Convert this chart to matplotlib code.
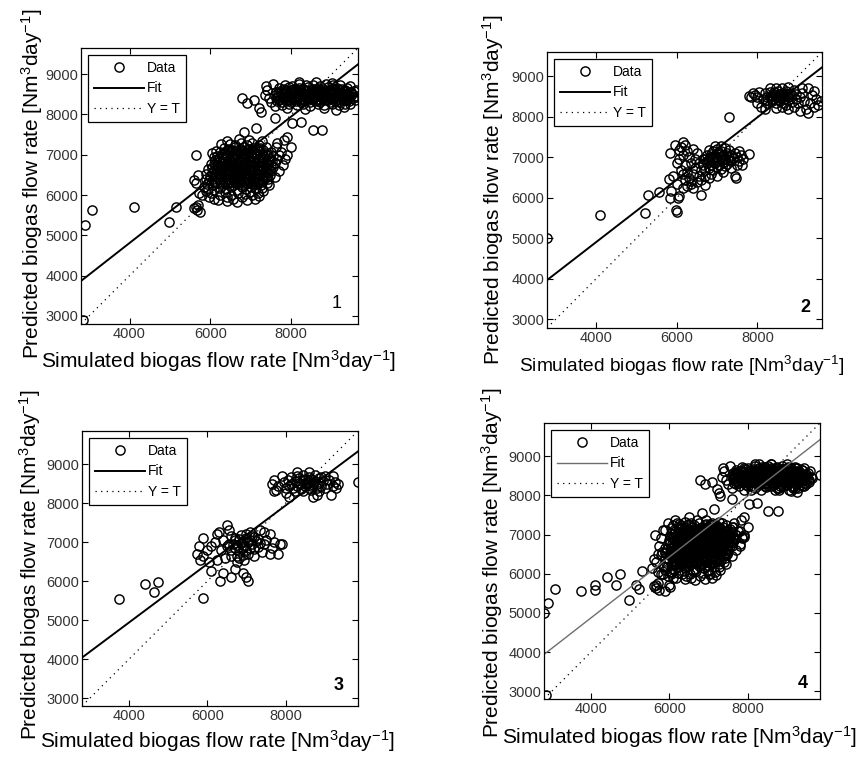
import numpy as np
import matplotlib
matplotlib.use("Agg")
import matplotlib.pyplot as plt

plt.rcParams['font.family'] = ['Liberation Sans', 'DejaVu Sans']
plt.rcParams['mathtext.fontset'] = 'custom'
plt.rcParams['mathtext.rm'] = 'Liberation Sans'
plt.rcParams['mathtext.it'] = 'Liberation Sans'

# ---- training set (panel 1) ----
train_out = [(2840, 2910), (2910, 5250), (3080, 5620), (4100, 5700), (4970, 5330),
             (5150, 5700), (5640, 6990), (6840, 7560), (7130, 7660), (6790, 8400),
             (6910, 8280), (7080, 8350), (7210, 8160), (7260, 8060), (7600, 7910),
             (8030, 7790), (8250, 7810), (8530, 7610), (8770, 7610), (7900, 7440),
             (8000, 7200), (7830, 7360), (7650, 7300), (5650, 5700), (5670, 5630)]

train_lo = [(6180, 5880), (6420, 5940), (6560, 5900), (6790, 5950), (7020, 5990),
            (6010, 6040), (6230, 6010), (6370, 6070), (6520, 5990), (6680, 6060), (6850, 6020), (6990, 6080), (7180, 6040),
            (5950, 6160), (6090, 6120), (6240, 6180), (6390, 6140), (6510, 6200), (6650, 6130), (6770, 6190),
            (6890, 6150), (7010, 6210), (7130, 6160), (7270, 6180),
            (5920, 6280), (6060, 6240), (6170, 6300), (6310, 6260), (6430, 6310), (6550, 6250), (6670, 6290),
            (6790, 6240), (6910, 6300), (7030, 6270), (7150, 6310), (7260, 6250), (7390, 6290),
            (5970, 6370), (6110, 6330), (6230, 6390), (6350, 6350), (6470, 6400), (6590, 6340), (6710, 6380),
            (6830, 6360), (6950, 6410), (7070, 6350), (7190, 6390), (7310, 6360), (7430, 6400),
            (6000, 6470), (6130, 6440), (6250, 6490), (6370, 6450), (6490, 6500), (6610, 6440), (6730, 6480),
            (6850, 6460), (6970, 6510), (7090, 6450), (7210, 6490), (7330, 6470), (7470, 6500),
            (6030, 6560), (6150, 6540), (6280, 6590), (6400, 6550), (6520, 6600), (6640, 6540), (6760, 6580),
            (6880, 6560), (7000, 6610), (7120, 6550), (7240, 6590), (7370, 6570), (7510, 6600),
            (6050, 6660), (6170, 6640), (6300, 6690), (6420, 6650), (6540, 6700), (6660, 6640), (6780, 6680),
            (6900, 6660), (7020, 6710), (7140, 6650), (7260, 6690), (7400, 6670), (7550, 6700),
            (6080, 6760), (6200, 6740), (6330, 6790), (6450, 6750), (6570, 6800), (6690, 6740), (6810, 6780),
            (6930, 6760), (7050, 6810), (7170, 6750), (7290, 6790), (7430, 6770), (7590, 6800),
            (6110, 6860), (6240, 6840), (6360, 6890), (6480, 6850), (6600, 6900), (6720, 6840), (6840, 6880),
            (6960, 6860), (7080, 6910), (7200, 6850), (7330, 6890), (7470, 6870), (7640, 6900),
            (6160, 6960), (6290, 6940), (6410, 6990), (6530, 6950), (6650, 7000), (6770, 6940), (6890, 6980),
            (7010, 6960), (7130, 7010), (7260, 6950), (7390, 6990), (7540, 6970), (7700, 6990),
            (6230, 7060), (6360, 7040), (6480, 7090), (6600, 7050), (6720, 7100), (6840, 7040), (6960, 7080),
            (7080, 7060), (7210, 7100), (7350, 7050), (7500, 7080),
            (6330, 7160), (6470, 7140), (6600, 7190), (6720, 7150), (6840, 7200), (6960, 7140), (7090, 7180),
            (7230, 7160), (7380, 7190),
            (6480, 7260), (6620, 7240), (6760, 7290), (6900, 7250), (7040, 7280), (7190, 7240),
            (5850, 6200), (5880, 6100), (5900, 6400), (5960, 5950), (5880, 6520), (5940, 6640), (6020, 6780),
            (6100, 6950), (6150, 7100), (6250, 7260), (6400, 7330), (6700, 7380), (6950, 7360), (7280, 7330),
            (7620, 7200), (7750, 7080), (7850, 6900), (7900, 7000), (7800, 6750), (7700, 6600), (7600, 6450),
            (7450, 6250), (7300, 6100), (7200, 5980), (7100, 5900), (6900, 5870), (6650, 5830), (6400, 5860),
            (6100, 5900), (5600, 6380), (5700, 6500), (5650, 6300), (5720, 6050), (5600, 5680), (5700, 5760),
            (5750, 5580), (5800, 6000), (6050, 7050)]

# dense middle of the lower training cloud
train_lo_core = [(6120, 6300), (6240, 6320), (6360, 6290), (6480, 6330), (6600, 6300), (6720, 6320), (6840, 6290),
                 (6960, 6330), (7080, 6300), (7200, 6320),
                 (6070, 6410), (6190, 6420), (6310, 6400), (6430, 6430), (6550, 6400), (6670, 6420), (6790, 6410),
                 (6910, 6430), (7030, 6400), (7150, 6420), (7270, 6410), (7390, 6440),
                 (6090, 6510), (6210, 6520), (6330, 6500), (6450, 6530), (6570, 6500), (6690, 6520), (6810, 6510),
                 (6930, 6530), (7050, 6500), (7170, 6520), (7290, 6510), (7420, 6540),
                 (6110, 6610), (6230, 6620), (6350, 6600), (6470, 6630), (6590, 6600), (6710, 6620), (6830, 6610),
                 (6950, 6630), (7070, 6600), (7190, 6620), (7310, 6610), (7450, 6640),
                 (6130, 6710), (6250, 6720), (6370, 6700), (6490, 6730), (6610, 6700), (6730, 6720), (6850, 6710),
                 (6970, 6730), (7090, 6700), (7210, 6720), (7340, 6710), (7490, 6740),
                 (6160, 6810), (6280, 6820), (6400, 6800), (6520, 6830), (6640, 6800), (6760, 6820), (6880, 6810),
                 (7000, 6830), (7120, 6800), (7250, 6820), (7380, 6810), (7530, 6840),
                 (6210, 6910), (6330, 6920), (6450, 6900), (6570, 6930), (6690, 6900), (6810, 6920), (6930, 6910),
                 (7050, 6930), (7170, 6900), (7300, 6920), (7440, 6910),
                 (6290, 7010), (6410, 7020), (6530, 7000), (6650, 7030), (6770, 7000), (6890, 7020), (7010, 7010),
                 (7140, 7030), (7270, 7000), (7420, 7020),
                 (6400, 7110), (6530, 7120), (6660, 7100), (6780, 7130), (6900, 7100), (7020, 7120), (7150, 7110),
                 (7300, 7130)]

train_hi = [(7780, 8240), (7950, 8270), (8130, 8230), (8300, 8260), (8470, 8220), (8650, 8270), (8820, 8240),
            (9000, 8260), (9170, 8230), (9340, 8270),
            (7650, 8330), (7760, 8310), (7880, 8350), (7990, 8320), (8110, 8340), (8230, 8310), (8350, 8350),
            (8470, 8320), (8590, 8340), (8710, 8310), (8830, 8350), (8950, 8320), (9070, 8340), (9190, 8310),
            (9310, 8350), (9430, 8330),
            (7620, 8410), (7730, 8390), (7850, 8430), (7970, 8400), (8090, 8420), (8210, 8390), (8330, 8430),
            (8450, 8400), (8570, 8420), (8690, 8390), (8810, 8430), (8930, 8400), (9050, 8420), (9170, 8390),
            (9290, 8430), (9410, 8400), (9530, 8420),
            (7600, 8490), (7710, 8470), (7830, 8510), (7950, 8480), (8070, 8500), (8190, 8470), (8310, 8510),
            (8430, 8480), (8550, 8500), (8670, 8470), (8790, 8510), (8910, 8480), (9030, 8500), (9150, 8470),
            (9270, 8510), (9390, 8480), (9510, 8500), (9620, 8460),
            (7620, 8570), (7740, 8550), (7860, 8590), (7980, 8560), (8100, 8580), (8220, 8550), (8340, 8590),
            (8460, 8560), (8580, 8580), (8700, 8550), (8820, 8590), (8940, 8560), (9060, 8580), (9180, 8550),
            (9300, 8590), (9420, 8560), (9540, 8580),
            (7700, 8650), (7820, 8630), (7940, 8670), (8060, 8640), (8180, 8660), (8300, 8630), (8420, 8670),
            (8540, 8640), (8660, 8660), (8780, 8630), (8900, 8670), (9020, 8640), (9140, 8660), (9260, 8630),
            (9380, 8660),
            (7850, 8730), (8020, 8710), (8190, 8750), (8360, 8720), (8530, 8740), (8700, 8710), (8870, 8750),
            (9040, 8720), (9210, 8730),
            (7400, 8620), (7350, 8480), (7450, 8400), (7380, 8700), (7550, 8750), (7500, 8300), (7600, 8200),
            (8200, 8800), (8600, 8800), (9000, 8790), (9450, 8700), (9600, 8620), (9580, 8350), (9450, 8250),
            (9300, 8180), (8800, 8150), (8350, 8130), (7900, 8150), (9650, 8440), (9100, 8120)]

# dense middle of the upper training cloud
train_hi_core = [(7700, 8370), (7820, 8380), (7940, 8360), (8060, 8390), (8180, 8370), (8300, 8380), (8420, 8360),
                 (8540, 8390), (8660, 8370), (8780, 8380), (8900, 8360), (9020, 8390), (9140, 8370), (9260, 8380),
                 (9380, 8360),
                 (7660, 8450), (7780, 8460), (7900, 8440), (8020, 8470), (8140, 8450), (8260, 8460), (8380, 8440),
                 (8500, 8470), (8620, 8450), (8740, 8460), (8860, 8440), (8980, 8470), (9100, 8450), (9220, 8460),
                 (9340, 8440), (9460, 8470),
                 (7680, 8530), (7800, 8540), (7920, 8520), (8040, 8550), (8160, 8530), (8280, 8540), (8400, 8520),
                 (8520, 8550), (8640, 8530), (8760, 8540), (8880, 8520), (9000, 8550), (9120, 8530), (9240, 8540),
                 (9360, 8520), (9480, 8550),
                 (7760, 8610), (7880, 8620), (8000, 8600), (8120, 8630), (8240, 8610), (8360, 8620), (8480, 8600),
                 (8600, 8630), (8720, 8610), (8840, 8620), (8960, 8600), (9080, 8630), (9200, 8610), (9320, 8620)]

# ---- validation set (panel 2) ----
val_out = [(2800, 5000), (4100, 5580), (5220, 5620), (5300, 6080), (5570, 6140), (5800, 6470),
           (5830, 7120), (5840, 5990), (5860, 6160), (5990, 5700), (6010, 5650), (6040, 6000),
           (6070, 6040), (5960, 7300), (6150, 7370), (6050, 7180), (6360, 6420), (6600, 6060),
           (6710, 6310), (7140, 6640), (7290, 7990), (7470, 6500), (7620, 6810), (7800, 7080), (7440, 6540)]

val_lo = [(6100, 7250), (6200, 7300), (6250, 7150), (6300, 7000), (6150, 7050), (6050, 6950), (6000, 6850),
          (6100, 6700), (6200, 6800), (6150, 6600), (6250, 6650), (6300, 6500), (6200, 6450), (6350, 6350),
          (6400, 6600), (6450, 6750), (6350, 6850), (6450, 6950), (6500, 7100), (6400, 7200), (6550, 6550),
          (6500, 6400), (6600, 6700), (6550, 6850), (6650, 6950), (6400, 6250), (6250, 6300), (6150, 6250),
          (6000, 6350), (5900, 6550),
          (6650, 6800), (6750, 6850), (6850, 6800), (6950, 6870), (7050, 6820), (7150, 6880), (7250, 6840),
          (7350, 6900), (6700, 6950), (6800, 6920), (6900, 6980), (7000, 6940), (7100, 7000), (7200, 6960),
          (7300, 7020), (7400, 6990), (7500, 7000), (6750, 7050), (6850, 7080), (6950, 7040), (7050, 7100),
          (7150, 7060), (7250, 7120), (7350, 7070), (7450, 7100), (6800, 7180), (6900, 7150), (7000, 7200),
          (7100, 7160), (7200, 7220), (7300, 7180), (6950, 7280), (7100, 7290), (6700, 6700), (6800, 6750),
          (6900, 6700), (7000, 6760), (7100, 6720), (7200, 6780), (7350, 6750), (7550, 6900), (7600, 7050),
          (7500, 6800), (6850, 6600), (7000, 6550), (6700, 6550), (6600, 6450), (6800, 6500), (7650, 6950),
          (7550, 7150), (6900, 6880), (7000, 7010), (7120, 6930), (7230, 7050), (6820, 7020), (7280, 6930)]

val_hi = [(7850, 8500), (7950, 8550), (8000, 8480), (7900, 8600), (8050, 8620), (7800, 8520), (8000, 8350),
          (8100, 8250), (8200, 8200),
          (8150, 8450), (8250, 8500), (8350, 8450), (8450, 8520), (8550, 8460), (8650, 8530), (8750, 8480),
          (8850, 8540), (8200, 8580), (8300, 8620), (8400, 8560), (8500, 8640), (8600, 8580), (8700, 8650),
          (8800, 8600), (8900, 8660), (8250, 8350), (8350, 8380), (8450, 8330), (8550, 8400), (8650, 8350),
          (8750, 8410), (8850, 8370), (8950, 8430), (8300, 8700), (8450, 8720), (8600, 8700), (8750, 8730),
          (8350, 8520), (8500, 8410), (8650, 8450), (8800, 8520), (8950, 8560), (8550, 8560), (8700, 8300),
          (8600, 8250), (8450, 8230), (8750, 8200), (8900, 8250),
          (8300, 8480), (8400, 8620), (8600, 8480), (8700, 8560), (8500, 8500), (8250, 8420),
          (9050, 8500), (9100, 8600), (9150, 8400), (9200, 8200), (9250, 8100), (9300, 8350), (9350, 8550),
          (9400, 8650), (9450, 8450), (9500, 8300), (9580, 8400), (9100, 8700), (9000, 8350), (9250, 8700),
          (9400, 8250), (9050, 8150)]

# ---- test set (panel 3) ----
test_out = [(3750, 5550), (4420, 5920), (4630, 5720), (4730, 5990), (5900, 5560), (9850, 8530), (9160, 8200)]

test_lo = [(5730, 6700), (5800, 6900), (5880, 7110), (5820, 6550), (5900, 6650), (6000, 6800), (6050, 6500),
           (6100, 6250), (6100, 6900), (6200, 7000), (6250, 7200), (6300, 7250), (6350, 6800), (6320, 6000),
           (6400, 6200), (6500, 7450), (6550, 7300), (6450, 6600), (6600, 6100), (6700, 6300), (6900, 6200),
           (7050, 6000), (7000, 6100), (6750, 6500), (6600, 6650), (6250, 6550), (6500, 6900), (6700, 7100),
           (6400, 7050), (7850, 6950), (7900, 6950), (7800, 6700), (7600, 6700), (7650, 6850), (7700, 7000),
           (7600, 7200), (7450, 7250), (7350, 7300),
           (6600, 6800), (6700, 6850), (6800, 6780), (6900, 6840), (7000, 6800), (7100, 6860), (7200, 6820),
           (7300, 6880), (6650, 6950), (6750, 6920), (6850, 6980), (6950, 6940), (7050, 7000), (7150, 6960),
           (7250, 7020), (7350, 6990), (6700, 7050), (6800, 7080), (6900, 7040), (7000, 7100), (7100, 7060),
           (7200, 7120), (7300, 7080), (6850, 7180), (7000, 7200), (7150, 7170), (6750, 6650), (6900, 6680),
           (7050, 6700), (7200, 6650), (7400, 6750), (7450, 6950), (7500, 7050), (6550, 6950), (6600, 7150),
           (7100, 7250), (6950, 6550), (6800, 6600)]

test_hi = [(7650, 8500), (7700, 8600), (7750, 8350), (7700, 8300), (7800, 8450), (7900, 8700), (8000, 8250),
           (8100, 8150), (8300, 8800), (8600, 8800), (8800, 8200), (8700, 8150), (9000, 8700), (9100, 8600),
           (9200, 8450), (9300, 8400), (9250, 8550), (9350, 8500), (9200, 8700),
           (7950, 8550), (8050, 8600), (8150, 8500), (8250, 8580), (8350, 8520), (8450, 8600), (8550, 8540),
           (8650, 8620), (8750, 8560), (8850, 8640), (8950, 8580), (8000, 8400), (8100, 8450), (8200, 8380),
           (8300, 8430), (8400, 8360), (8500, 8440), (8600, 8400), (8700, 8460), (8800, 8380), (8900, 8450),
           (9000, 8400), (8150, 8680), (8300, 8700), (8450, 8720), (8600, 8680), (8750, 8710), (8900, 8680),
           (8250, 8300), (8450, 8300), (8650, 8330), (8850, 8300), (9050, 8500), (8550, 8500), (8700, 8520),
           (8400, 8480), (8500, 8620), (8800, 8490), (8350, 8640), (8650, 8450)]

train = np.array(train_out + train_lo + train_lo_core + train_hi + train_hi_core, dtype=float)
val = np.array(val_out + val_lo + val_hi, dtype=float)
test = np.array(test_out + test_lo + test_hi, dtype=float)
all_data = np.vstack([train, val, test])

panel_data = [train, val, test, all_data]
panel_tags = ['1', '2', '3', '4']
axis_lims = [(2800, 9650), (2790, 9600), (2800, 9850), (2800, 9850)]
fit_slope = [0.785, 0.771, 0.750, 0.778]
fit_icpt = [1670, 1820, 1940, 1760]
x_ticks = [4000, 6000, 8000]
y_ticks = [3000, 4000, 5000, 6000, 7000, 8000, 9000]

W, H = 861, 760
fig = plt.figure(figsize=(W / 100, H / 100), dpi=100)

# axes boxes in pixels: left, top, right, bottom
boxes = [(81, 48, 358, 324), (547, 52, 822, 328), (82, 431, 358, 706), (544, 423, 820, 699)]
ylab_xy = [(32, 184), (493, 190), (30, 565), (492, 563)]
xlab_xy = [(219, 361), (682, 366), (218, 741), (680, 737)]
tag_xy = [(337, 304), (805, 308), (339, 686), (803, 683)]

ylab = 'Predicted biogas flow rate [Nm$\\mathregular{^3}$day$\\mathregular{^{-1}}$]'
xlab = 'Simulated biogas flow rate [Nm$\\mathregular{^3}$day$\\mathregular{^{-1}}$]'

for i in range(4):
    l, t, r, b = boxes[i]
    ax = fig.add_axes([l / W, 1 - b / H, (r - l) / W, (b - t) / H])
    d = panel_data[i]
    lo, hi = axis_lims[i]

    ax.plot(d[:, 0], d[:, 1], 'o', ms=6.6, mfc='none', mec='black', mew=1.05, label='Data')
    xs = np.array([lo, hi])
    fit_col = '#6e6e6e' if i == 3 else 'black'
    fit_lw = 1.0 if i == 3 else 1.4
    ax.plot(xs, fit_slope[i] * xs + fit_icpt[i], '-', color=fit_col, lw=fit_lw, label='Fit')
    ax.plot(xs, xs, color='black', lw=0.9, linestyle=(0, (1, 3.5)), label='Y = T')

    ax.set_xlim(lo, hi)
    ax.set_ylim(lo, hi)
    ax.set_xticks(x_ticks)
    ax.set_yticks(y_ticks)
    ax.tick_params(direction='in', length=4, width=0.8, top=True, right=True,
                   labelsize=10.5, labelcolor='#333333', pad=2)
    for sp in ax.spines.values():
        sp.set_linewidth(0.9)

    leg = ax.legend(loc='upper left', fontsize=10, handlelength=3.6, handletextpad=0.2,
                    labelspacing=0.45, borderpad=0.45, borderaxespad=0.5,
                    fancybox=False, framealpha=1, numpoints=1)
    leg.get_frame().set_edgecolor('black')
    leg.get_frame().set_linewidth(0.9)

    fig.text(ylab_xy[i][0] / W, 1 - ylab_xy[i][1] / H, ylab, rotation=90,
             ha='center', va='center', fontsize=15)
    fig.text(xlab_xy[i][0] / W, 1 - xlab_xy[i][1] / H, xlab,
             ha='center', va='center', fontsize=15 if i != 1 else 13.8)
    fig.text(tag_xy[i][0] / W, 1 - tag_xy[i][1] / H, panel_tags[i],
             ha='center', va='center', fontsize=13,
             fontweight='normal' if i == 0 else 'bold')

fig.savefig('out.png', dpi=100)
